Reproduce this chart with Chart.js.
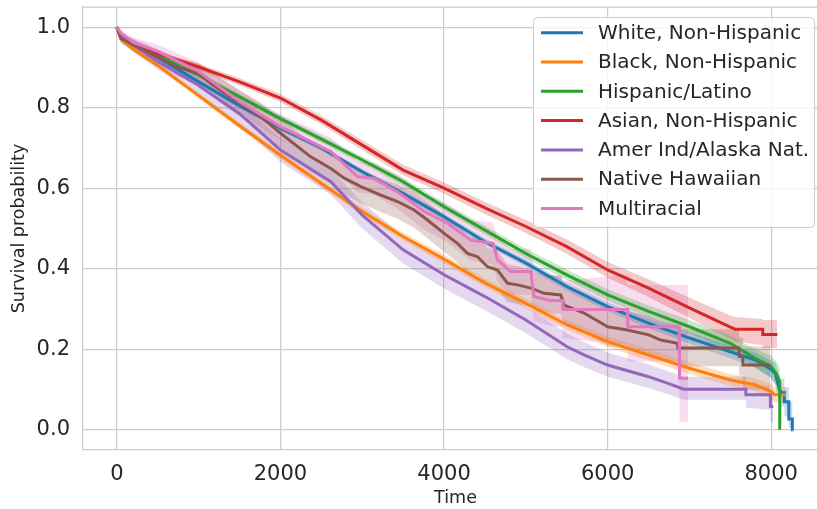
<!DOCTYPE html>
<html>
<head>
<meta charset="utf-8">
<script src="https://cdn.jsdelivr.net/npm/chart.js@4.4.1/dist/chart.umd.min.js"></script>
<style>
  html,body{margin:0;padding:0;background:#fff;overflow:hidden;}
  #wrap{position:absolute;left:0;top:0;width:840px;height:509px;}
</style>
</head>
<body>
<div id="wrap"><canvas id="chart"></canvas></div>
<script>
// Kaplan-Meier Kurven je Gruppe: Zeit, Überleben, untere/obere Grenze
const tWhite = [0, 50, 200, 500, 1000, 1500, 2000, 2500, 3000, 3500, 4000, 4500, 5000, 5500, 6000, 6500, 7000, 7500, 7800, 8000, 8050, 8080, 8117, 8160, 8160, 8215, 8215, 8258, 8258, 8270];
const sWhite = [1.0, 0.975, 0.955, 0.925, 0.864, 0.805, 0.749, 0.700, 0.641, 0.587, 0.529, 0.467, 0.414, 0.356, 0.306, 0.265, 0.228, 0.194, 0.174, 0.150, 0.140, 0.115, 0.092, 0.092, 0.070, 0.070, 0.027, 0.027, 0.0, 0.0];
const loWhite = [1.0, 0.971, 0.950, 0.919, 0.858, 0.798, 0.742, 0.693, 0.634, 0.580, 0.521, 0.459, 0.405, 0.346, 0.295, 0.253, 0.214, 0.178, 0.155, 0.128, 0.110, 0.083, 0.058, 0.058, 0.035, 0.035, 0.005, 0.005, 0.0, 0.0];
const hiWhite = [1.0, 0.979, 0.960, 0.931, 0.870, 0.812, 0.756, 0.707, 0.648, 0.594, 0.537, 0.475, 0.423, 0.366, 0.317, 0.277, 0.242, 0.210, 0.193, 0.172, 0.168, 0.147, 0.127, 0.127, 0.106, 0.106, 0.070, 0.070, 0.0, 0.0];

const tBlack = [0, 50, 200, 500, 1000, 1500, 2000, 2500, 3000, 3500, 4000, 4500, 5000, 5500, 6000, 6500, 7000, 7500, 7800, 8000, 8040, 8180];
const sBlack = [1.0, 0.970, 0.945, 0.905, 0.830, 0.755, 0.682, 0.612, 0.542, 0.480, 0.424, 0.365, 0.314, 0.261, 0.219, 0.186, 0.153, 0.124, 0.112, 0.095, 0.087, 0.087];
const loBlack = [1.0, 0.966, 0.940, 0.899, 0.823, 0.747, 0.673, 0.603, 0.532, 0.470, 0.413, 0.354, 0.302, 0.249, 0.206, 0.172, 0.139, 0.109, 0.096, 0.077, 0.068, 0.068];
const hiBlack = [1.0, 0.974, 0.950, 0.911, 0.837, 0.763, 0.691, 0.621, 0.552, 0.490, 0.435, 0.376, 0.326, 0.273, 0.232, 0.200, 0.167, 0.139, 0.128, 0.113, 0.106, 0.106];

const tHisp = [0, 50, 200, 500, 1000, 1500, 2000, 2500, 3000, 3500, 4000, 4500, 5000, 5500, 6000, 6500, 7000, 7500, 7800, 8000, 8060, 8104, 8104];
const sHisp = [1.0, 0.978, 0.960, 0.930, 0.881, 0.827, 0.773, 0.722, 0.670, 0.616, 0.554, 0.496, 0.438, 0.385, 0.335, 0.294, 0.256, 0.215, 0.178, 0.157, 0.140, 0.120, 0.0];
const loHisp = [1.0, 0.974, 0.955, 0.924, 0.874, 0.820, 0.765, 0.713, 0.661, 0.606, 0.544, 0.485, 0.426, 0.372, 0.321, 0.279, 0.239, 0.196, 0.155, 0.130, 0.110, 0.085, 0.0];
const hiHisp = [1.0, 0.982, 0.965, 0.936, 0.888, 0.834, 0.781, 0.731, 0.679, 0.626, 0.564, 0.507, 0.450, 0.398, 0.349, 0.309, 0.273, 0.234, 0.201, 0.184, 0.170, 0.155, 0.0];

const tAsian = [0, 50, 200, 500, 1000, 1500, 2000, 2500, 3000, 3500, 4000, 4500, 5000, 5500, 6000, 6500, 7000, 7500, 7560, 7896, 7896, 8075];
const sAsian = [1.0, 0.980, 0.958, 0.935, 0.901, 0.864, 0.824, 0.769, 0.707, 0.645, 0.600, 0.551, 0.505, 0.455, 0.397, 0.352, 0.303, 0.255, 0.250, 0.250, 0.237, 0.237];
const loAsian = [1.0, 0.976, 0.952, 0.928, 0.893, 0.855, 0.814, 0.758, 0.695, 0.632, 0.586, 0.536, 0.489, 0.437, 0.378, 0.330, 0.278, 0.226, 0.220, 0.210, 0.203, 0.203];
const hiAsian = [1.0, 0.984, 0.963, 0.941, 0.909, 0.873, 0.834, 0.780, 0.719, 0.658, 0.614, 0.566, 0.521, 0.473, 0.417, 0.374, 0.328, 0.284, 0.280, 0.275, 0.273, 0.273];

const tAmInd = [0, 50, 200, 500, 1000, 1500, 2000, 2616, 3000, 3500, 4000, 4500, 5000, 5500, 5710, 6000, 6500, 6730, 6930, 7690, 7690, 7990, 7990, 8026];
const sAmInd = [1.0, 0.975, 0.955, 0.915, 0.855, 0.785, 0.695, 0.616, 0.533, 0.447, 0.385, 0.331, 0.273, 0.207, 0.186, 0.161, 0.132, 0.116, 0.101, 0.101, 0.087, 0.087, 0.058, 0.058];
const loAmInd = [1.0, 0.962, 0.938, 0.895, 0.830, 0.757, 0.665, 0.584, 0.500, 0.413, 0.351, 0.297, 0.240, 0.176, 0.156, 0.132, 0.104, 0.089, 0.075, 0.075, 0.055, 0.050, 0.020, 0.020];
const hiAmInd = [1.0, 0.986, 0.970, 0.934, 0.878, 0.811, 0.724, 0.647, 0.565, 0.480, 0.419, 0.366, 0.307, 0.240, 0.218, 0.192, 0.162, 0.146, 0.132, 0.132, 0.110, 0.107, 0.095, 0.095];

const tHawaii = [0, 49, 334, 742, 1002, 1149, 1503, 1760, 2005, 2371, 2616, 2779, 2983, 3227, 3431, 3634, 3797, 4001, 4164, 4287, 4409, 4531, 4653, 4776, 4898, 5061, 5223, 5427, 5468, 5712, 6001, 6242, 6503, 6650, 6853, 6860, 7605, 7610, 7650, 7655, 7990];
const sHawaii = [1.0, 0.972, 0.943, 0.901, 0.885, 0.860, 0.811, 0.777, 0.736, 0.678, 0.649, 0.625, 0.604, 0.583, 0.567, 0.546, 0.521, 0.488, 0.463, 0.438, 0.430, 0.405, 0.397, 0.364, 0.360, 0.352, 0.339, 0.335, 0.310, 0.290, 0.256, 0.248, 0.236, 0.223, 0.215, 0.203, 0.203, 0.182, 0.182, 0.161, 0.161];
const loHawaii = [1.0, 0.960, 0.925, 0.878, 0.858, 0.830, 0.778, 0.742, 0.700, 0.640, 0.610, 0.585, 0.563, 0.541, 0.524, 0.502, 0.476, 0.442, 0.417, 0.391, 0.383, 0.358, 0.350, 0.317, 0.313, 0.305, 0.292, 0.288, 0.263, 0.243, 0.209, 0.201, 0.189, 0.176, 0.168, 0.158, 0.158, 0.135, 0.135, 0.100, 0.100];
const hiHawaii = [1.0, 0.984, 0.960, 0.923, 0.910, 0.889, 0.843, 0.811, 0.772, 0.716, 0.688, 0.665, 0.645, 0.625, 0.610, 0.590, 0.566, 0.534, 0.509, 0.485, 0.477, 0.452, 0.444, 0.411, 0.407, 0.399, 0.386, 0.382, 0.357, 0.337, 0.303, 0.295, 0.283, 0.270, 0.262, 0.250, 0.250, 0.229, 0.229, 0.207, 0.207];

const tMulti = [0, 50, 200, 500, 1000, 1500, 2000, 2616, 2942, 3145, 3431, 3757, 4042, 4327, 4600, 4653, 4816, 5060, 5100, 5305, 5447, 5452, 6242, 6247, 6874, 6879, 6983];
const sMulti = [1.0, 0.985, 0.962, 0.940, 0.890, 0.815, 0.753, 0.691, 0.629, 0.624, 0.591, 0.542, 0.513, 0.471, 0.463, 0.422, 0.393, 0.393, 0.331, 0.321, 0.321, 0.299, 0.299, 0.256, 0.256, 0.128, 0.128];
const loMulti = [1.0, 0.975, 0.948, 0.922, 0.866, 0.786, 0.720, 0.655, 0.590, 0.584, 0.549, 0.497, 0.466, 0.420, 0.410, 0.368, 0.337, 0.335, 0.270, 0.258, 0.256, 0.228, 0.210, 0.170, 0.170, 0.020, 0.020];
const hiMulti = [1.0, 0.993, 0.974, 0.956, 0.912, 0.842, 0.784, 0.726, 0.667, 0.663, 0.632, 0.587, 0.560, 0.521, 0.515, 0.476, 0.449, 0.450, 0.392, 0.384, 0.385, 0.370, 0.385, 0.360, 0.360, 0.360, 0.360];

const groupNames = ["White, Non-Hispanic", "Black, Non-Hispanic", "Hispanic/Latino", "Asian, Non-Hispanic", "Amer Ind/Alaska Nat.", "Native Hawaiian", "Multiracial"];
const groupColors = ["#1f77b4", "#ff7f0e", "#2ca02c", "#d62728", "#9467bd", "#8c564b", "#e377c2"];
const xTicks = [0, 2000, 4000, 6000, 8000];
const yTicks = [0.0, 0.2, 0.4, 0.6, 0.8, 1.0];

const groups = [
  [tWhite, sWhite, loWhite, hiWhite],
  [tBlack, sBlack, loBlack, hiBlack],
  [tHisp, sHisp, loHisp, hiHisp],
  [tAsian, sAsian, loAsian, hiAsian],
  [tAmInd, sAmInd, loAmInd, hiAmInd],
  [tHawaii, sHawaii, loHawaii, hiHawaii],
  [tMulti, sMulti, loMulti, hiMulti]
];

const FONT = "'DejaVu Sans', sans-serif";
const INK = "#262626";
const GRID = "#cccccc";

function pts(ts, ys){ return ts.map((t,i)=>({x:t, y:ys[i]})); }
function alpha(hex, a){
  const n = parseInt(hex.slice(1),16);
  return `rgba(${n>>16},${(n>>8)&255},${n&255},${a})`;
}

// Bänder zuerst (oben + unten, fill '-1'), danach die Linien
const datasets = [];
groups.forEach((g,i)=>{
  datasets.push({label:groupNames[i]+" hi", data:pts(g[0],g[3]), borderWidth:0, pointRadius:0, fill:false, order:100});
  datasets.push({label:groupNames[i]+" lo", data:pts(g[0],g[2]), borderWidth:0, pointRadius:0,
    fill:'-1', backgroundColor:alpha(groupColors[i],0.25), order:100});
});
groups.forEach((g,i)=>{
  datasets.push({label:groupNames[i], data:pts(g[0],g[1]), borderColor:groupColors[i], borderWidth:3,
    pointRadius:0, fill:false, tension:0, order:20-i});
});

// Rahmen oben + Legende im Plot
const frameLegend = {
  id:'frameLegend',
  afterDraw(chart){
    const {ctx, chartArea:a} = chart;
    ctx.save();
    ctx.strokeStyle = GRID; ctx.lineWidth = 1.25;
    ctx.beginPath(); ctx.moveTo(a.left, a.top); ctx.lineTo(a.right, a.top); ctx.stroke();

    const bx=533.5, by=17.5, bw=281, bh=210, r=4;
    ctx.beginPath();
    ctx.moveTo(bx+r,by); ctx.arcTo(bx+bw,by,bx+bw,by+bh,r); ctx.arcTo(bx+bw,by+bh,bx,by+bh,r);
    ctx.arcTo(bx,by+bh,bx,by,r); ctx.arcTo(bx,by,bx+bw,by,r); ctx.closePath();
    ctx.fillStyle = "rgba(255,255,255,0.8)"; ctx.fill();
    ctx.strokeStyle = GRID; ctx.lineWidth = 1; ctx.stroke();

    ctx.font = `20px ${FONT}`; ctx.textBaseline = "middle"; ctx.textAlign = "left";
    groupNames.forEach((name,i)=>{
      const y = 32.7 + i*29.3;
      ctx.strokeStyle = groupColors[i]; ctx.lineWidth = 3;
      ctx.beginPath(); ctx.moveTo(541,y); ctx.lineTo(583,y); ctx.stroke();
      ctx.fillStyle = INK; ctx.fillText(name, 598, y+1);
    });
    ctx.restore();
  }
};

new Chart(document.getElementById("chart"), {
  type:"line",
  data:{datasets},
  plugins:[frameLegend],
  options:{
    responsive:true, maintainAspectRatio:false, animation:false,
    layout:{padding:{top:7, right:12, left:0, bottom:0}},
    plugins:{legend:{display:false}, tooltip:{enabled:false}, filler:{drawTime:'beforeDatasetsDraw'}},
    scales:{
      x:{
        type:"linear", min:-414, max:8694,
        afterBuildTicks:s=>{ s.ticks = xTicks.map(v=>({value:v})); },
        afterFit:s=>{ s.height = 59; s.paddingLeft = 0; s.paddingRight = 0; },
        grid:{color:GRID, lineWidth:1.25, drawTicks:false},
        border:{display:true, color:GRID, width:1.25},
        ticks:{font:{family:FONT, size:21}, color:INK, padding:12, maxRotation:0, callback:v=>String(v)},
        title:{display:true, text:"Time", font:{family:FONT, size:17.5}, color:INK, padding:{top:0,bottom:0}}
      },
      y:{
        min:-0.05, max:1.05,
        afterBuildTicks:s=>{ s.ticks = yTicks.map(v=>({value:v})); },
        afterFit:s=>{ s.width = 83; s.paddingTop = 0; s.paddingBottom = 0; },
        grid:{color:GRID, lineWidth:1.25, drawTicks:false},
        border:{display:true, color:GRID, width:1.25},
        ticks:{font:{family:FONT, size:21}, color:INK, padding:13, callback:v=>v.toFixed(1)},
        title:{display:true, text:"Survival probability", font:{family:FONT, size:17.5}, color:INK, padding:{top:9,bottom:0}}
      }
    }
  }
});
</script>
</body>
</html>
